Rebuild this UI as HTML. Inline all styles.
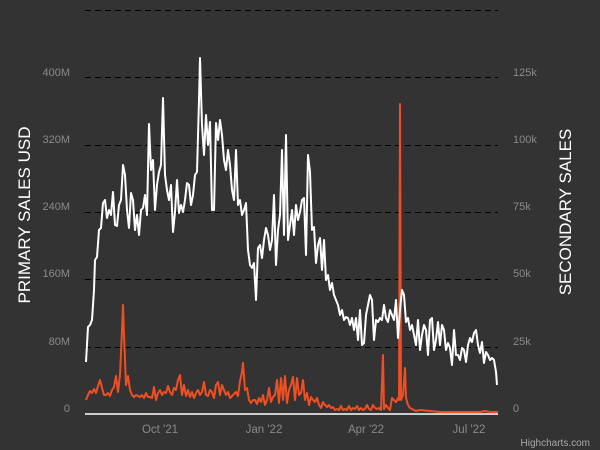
<!DOCTYPE html>
<html><head><style>body{margin:0;background:#333}</style></head><body>
<svg width="600" height="450" xmlns="http://www.w3.org/2000/svg" style="display:block;font-family:'Liberation Sans',sans-serif">
<rect width="600" height="450" fill="#333"/>
<g stroke="#000" stroke-width="1" stroke-dasharray="6,4">
<line x1="85" x2="498" y1="10.5" y2="10.5"/><line x1="85" x2="498" y1="77.5" y2="77.5"/><line x1="85" x2="498" y1="145.5" y2="145.5"/><line x1="85" x2="498" y1="212.5" y2="212.5"/><line x1="85" x2="498" y1="279.5" y2="279.5"/><line x1="85" x2="498" y1="347.5" y2="347.5"/>
</g>
<g fill="#8a8a8a" font-size="11">
<g text-anchor="end"><text x="70" y="76">400M</text><text x="70" y="143">320M</text><text x="70" y="210">240M</text><text x="70" y="277">160M</text><text x="70" y="345">80M</text><text x="70" y="412">0</text></g>
<text x="513" y="76">125k</text><text x="513" y="143">100k</text><text x="513" y="210">75k</text><text x="513" y="277">50k</text><text x="513" y="345">25k</text><text x="513" y="412">0</text>
<g text-anchor="middle" font-size="11.5"><text x="160" y="433">Oct '21</text><text x="264" y="433">Jan '22</text><text x="366" y="433">Apr '22</text><text x="469" y="433">Jul '22</text></g>
<text x="590" y="446" text-anchor="end" font-size="10" fill="#aaa">Highcharts.com</text>
</g>
<text transform="translate(30,215) rotate(-90)" text-anchor="middle" fill="#fff" font-size="17">PRIMARY SALES USD</text>
<text transform="translate(571,212) rotate(-90)" text-anchor="middle" fill="#fff" font-size="17">SECONDARY SALES</text>
<polyline fill="none" stroke="#f04e23" stroke-width="2" stroke-linejoin="round" points="86,400 88,395 90,391 92,393 94,389 96,393 98,386 100,380 102,388 104,395 106,395 108,393 110,396 112,390 114,387 116,376 118,392 120,375 122,330 123,305 124,335 126,385 128,376 130,390 132,395 134,397 136,395 138,396 140,397 142,395 144,398 146,393 148,397 150,397 152,398 154,387 156,400 158,393 160,390 162,395 164,392 166,393 168,386 170,392 172,395 174,388 176,390 178,380 180,375 182,395 184,385 186,396 188,390 190,397 192,392 194,398 196,393 198,390 200,395 202,392 204,382 206,395 208,396 210,390 212,392 214,398 216,385 218,382 220,395 222,385 224,390 226,395 228,392 230,398 232,396 234,394 236,392 238,396 240,381 242,372 243,363 245,390 247,388 249,400 251,403 253,400 255,400 257,404 259,398 261,402 263,395 265,405 267,400 269,388 271,402 273,397 275,395 277,380 279,403 281,378 283,400 285,376 287,403 289,390 291,385 293,377 295,400 297,378 299,395 301,393 303,380 305,400 307,393 309,405 311,397 313,400 315,402 317,398 319,405 321,408 323,402 325,405 327,407 329,405 331,408 333,407 335,410 337,409 339,410 341,406 343,410 345,409 347,410 349,406 351,410 353,408 355,409 357,406 359,410 361,408 363,410 365,409 367,405 369,409 371,410 373,405 375,408 377,409 379,408 381,410 383,355 384,409 386,405 388,408 390,410 392,398 394,400 396,402 398,398 399,400 400,104 401,400 403,395 405,368 406,398 408,405 410,408 412,409 414,410 416,411 420,410 430,411 440,412 450,412 460,412 470,412 480,412 485,411 490,412 498,412"/>
<polyline fill="none" stroke="#fff" stroke-width="2" stroke-linejoin="round" points="86,362 88,327 90,325 92,320 94,290 95,260 97,257 99,230 101,228 103,203 105,200 107,218 109,210 111,215 113,192 115,225 117,226 119,205 121,200 123,165 125,175 127,210 129,228 131,193 133,200 135,230 137,215 139,235 141,210 143,208 145,195 147,215 149,124 151,170 153,160 155,210 157,185 159,172 161,165 163,98 165,175 167,190 169,200 171,185 173,232 175,212 177,180 179,213 181,205 183,212 185,200 187,183 189,185 191,205 193,195 195,175 197,172 199,100 200,58 202,125 204,155 206,115 208,145 210,122 212,210 214,210 216,123 218,140 220,120 222,135 224,160 226,170 228,150 230,165 232,190 234,200 236,150 238,205 240,200 242,215 244,210 246,203 248,250 250,265 252,268 254,263 256,300 258,248 260,245 262,258 264,240 266,228 268,235 270,250 272,240 274,195 276,265 278,230 280,215 282,150 284,235 286,135 288,240 290,225 292,210 294,235 296,205 298,220 300,212 302,200 304,198 306,255 308,155 310,172 312,230 314,227 316,263 318,245 320,238 322,270 324,240 326,280 328,275 330,290 332,283 334,295 336,300 338,305 340,315 342,310 344,320 346,317 348,318 350,325 352,318 354,330 356,318 358,340 360,310 362,345 364,343 366,315 368,305 370,295 372,300 374,340 376,320 378,322 380,318 382,320 384,305 386,318 388,322 390,310 392,315 394,320 396,300 398,338 400,310 402,290 404,295 406,322 408,318 410,330 412,325 414,335 416,345 418,320 420,350 422,335 424,325 426,330 428,355 430,320 432,318 434,350 436,340 438,322 440,345 442,325 444,330 446,350 448,343 450,348 452,365 454,330 456,355 458,355 460,360 462,348 464,350 466,362 468,345 470,338 472,342 474,333 476,330 478,345 480,353 482,342 484,363 486,352 488,355 490,360 492,358 494,360 496,372 497,385"/>
<line x1="85" x2="498" y1="414" y2="414" stroke="#fff" stroke-width="1.5"/>
</svg>
</body></html>
